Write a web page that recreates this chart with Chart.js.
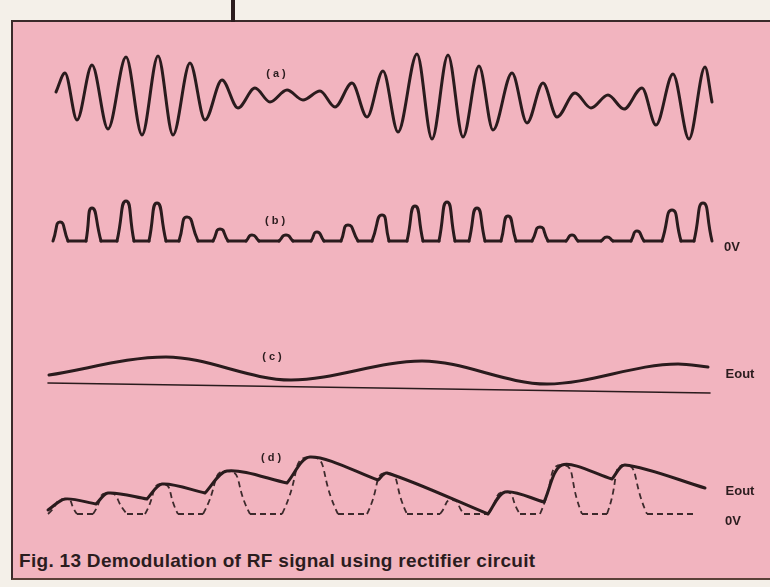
<!DOCTYPE html>
<html>
<head>
<meta charset="utf-8">
<script src="https://cdn.jsdelivr.net/npm/chart.js@4.4.0/dist/chart.umd.min.js"></script>
<style>
  html, body { margin: 0; padding: 0; background: #f4f0e9; }
  #page { position: relative; width: 770px; height: 587px; overflow: hidden; background: #f4f0e9; }
  #panel { position: absolute; left: 11px; top: 20px; width: 770px; height: 556px; background: #f2b4bf;
           border-left: 2px solid #3a2a2a; border-top: 2px solid #3a2a2a; border-bottom: 2px solid #5a4038; }
  #bar { position: absolute; left: 231px; top: 0; width: 4px; height: 22px; background: #2b1c1e; }
  .plot { position: absolute; left: 40px; width: 690px; }
  .lbl { position: absolute; transform: translate(-50%, -50%); white-space: nowrap;
         font-family: "Liberation Sans", Arial, sans-serif; font-weight: bold; color: #2b1c1e; line-height: 1; }
  .tag { font-size: 11px; }
  .side { font-size: 13px; }
  #caption { position: absolute; left: 19px; top: 551px; font-family: "Liberation Sans", Arial, sans-serif;
             font-weight: bold; font-size: 19px; letter-spacing: 0.3px; line-height: 1; color: #2b1c1e; white-space: nowrap; }
</style>
</head>
<body>
<div id="page">
  <div id="panel"></div>
  <div id="bar"></div>

  <div class="plot" style="top:42px;height:105px"><canvas id="chartA"></canvas></div>
  <div class="plot" style="top:191px;height:65px"><canvas id="chartB"></canvas></div>
  <div class="plot" style="top:338px;height:70px"><canvas id="chartC"></canvas></div>
  <div class="plot" style="top:444px;height:90px"><canvas id="chartD"></canvas></div>

  <div class="lbl tag" style="left:276px;top:73px">( a )</div>
  <div class="lbl tag" style="left:275px;top:220px">( b )</div>
  <div class="lbl tag" style="left:272px;top:356px">( c )</div>
  <div class="lbl tag" style="left:271px;top:457px">( d )</div>

  <div class="lbl side" style="left:732px;top:246px">0V</div>
  <div class="lbl side" style="left:740px;top:373px">Eout</div>
  <div class="lbl side" style="left:740px;top:490px">Eout</div>
  <div class="lbl side" style="left:733px;top:520px">0V</div>

  <div id="caption">Fig. 13 Demodulation of RF signal using rectifier circuit</div>
</div>

<script>
// time axis shared by all four traces (arbitrary units)
const T_MIN = -1, T_MAX = 68;
const INK = "#2a1b1d";

// (a) modulated RF carrier - peaks and troughs
const aTime = [0.6, 1.5, 2.7, 4.2, 5.8, 7.6, 9.2, 10.8, 12.3, 14.0, 15.5, 17.2, 18.8, 20.5, 22.0,
  23.7, 25.3, 27.0, 28.5, 30.2, 31.7, 33.3, 34.8, 36.7, 38.2, 39.8, 41.3, 42.9, 44.3, 46.2,
  47.7, 49.3, 50.7, 52.5, 54.1, 55.8, 57.4, 59.2, 60.6, 62.3, 63.9, 65.5, 66.2];
const aVolt = [0.5, 2.4, -2.3, 3.2, -3.2, 4.0, -3.8, 4.1, -3.8, 3.4, -2.3, 1.7, -1.1, 0.9, -0.5,
  0.7, -0.3, 0.6, -1.0, 1.4, -2.0, 2.6, -3.5, 4.3, -4.2, 4.2, -4.0, 3.1, -3.3, 2.4,
  -2.6, 1.4, -2.0, 0.4, -1.1, 0.2, -1.2, 0.9, -2.8, 2.3, -4.2, 3.0, -0.5];

// (b) rectified carrier - one hump per cycle
const bRiseT = [0.3, 3.6, 6.7, 9.9, 12.9, 16.3, 19.6, 22.9, 26.1, 29.1, 32.2, 35.7, 38.9, 41.9, 45.1, 48.2, 51.6, 55.1, 58.1, 61.2, 64.4];
const bPeakT = [1.0, 4.2, 7.6, 10.7, 13.7, 17.0, 20.2, 23.6, 26.7, 29.8, 33.2, 36.5, 39.7, 42.7, 45.8, 49.0, 52.2, 55.7, 58.7, 62.2, 65.3];
const bFallT = [1.8, 5.1, 8.4, 11.6, 14.8, 17.8, 20.9, 24.3, 27.4, 30.8, 33.9, 37.3, 40.5, 43.5, 46.6, 49.8, 52.8, 56.3, 59.4, 63.1, 66.2];
const bPeakV = [1.9, 3.3, 4.0, 3.8, 2.4, 1.2, 0.6, 0.6, 0.9, 1.6, 2.6, 3.5, 3.9, 3.3, 2.5, 1.4, 0.6, 0.4, 1.0, 3.1, 3.8];

// (c) recovered audio Eout and its reference line
const cTime = [-0.1, 11.6, 24.1, 37.2, 49.7, 62.8, 65.8];
const cVolt = [1.3, 3.1, 0.8, 2.7, 0.4, 2.4, 2.1];
const cRefT = [-0.2, 66.0];
const cRefV = [0.5, -0.5];

// (d) rectified humps (dashed) and capacitor output Eout (solid)
const dRiseT = [-0.2, 4.3, 9.5, 15.3, 23.2, 31.7, 39.0, 43.8, 49.0, 55.7];
const dPeakT = [1.5, 5.8, 11.2, 17.7, 26.0, 33.7, 40.2, 45.5, 51.2, 57.5];
const dFallT = [2.7, 7.7, 12.8, 20.0, 28.8, 35.7, 41.4, 47.0, 53.2, 59.7];
const dPeakV = [1.5, 2.1, 3.0, 4.3, 5.7, 4.1, 1.4, 2.2, 4.9, 4.9];
const dTailT = 64.7;
const dCuspT = [-0.2, 4.6, 9.7, 15.5, 23.7, 32.8, 43.8, 49.4, 56.2, 65.5];
const dCuspV = [0.4, 1.0, 1.5, 2.1, 3.1, 3.4, 0.0, 1.2, 3.5, 2.6];
const dTopT = [1.5, 5.8, 11.2, 17.7, 26.0, 33.7, 45.5, 51.2, 57.5];
const dTopV = [1.5, 2.1, 3.0, 4.3, 5.7, 4.1, 2.2, 4.9, 4.9];

const zip = (xs, ys) => xs.map((x, i) => ({ x, y: ys[i] }));

// humps: rise -> peak -> fall, broken apart with a gap
function humps(rise, peak, fall, height) {
  const pts = [];
  rise.forEach((t, i) => {
    pts.push({ x: t, y: 0 }, { x: peak[i], y: height[i] }, { x: fall[i], y: 0 }, { x: fall[i], y: null });
  });
  return pts;
}

// flat 0V pieces between the humps
function flats(rise, fall, tail) {
  const pts = [];
  for (let i = 0; i < fall.length - 1; i++) {
    pts.push({ x: fall[i], y: 0 }, { x: rise[i + 1], y: 0 }, { x: rise[i + 1], y: null });
  }
  if (tail != null) pts.push({ x: fall[fall.length - 1], y: 0 }, { x: tail, y: 0 });
  return pts;
}

// charge (curve up to the top) then discharge, sharp at each cusp
function eout() {
  const pts = [];
  dTopT.forEach((t, i) => {
    pts.push({ x: dCuspT[i], y: dCuspV[i] }, { x: t, y: dTopV[i] },
             { x: dCuspT[i + 1], y: dCuspV[i + 1] }, { x: dCuspT[i + 1], y: null });
  });
  return pts;
}

const line = (data, extra) => Object.assign({
  data, borderColor: INK, borderWidth: 3, pointRadius: 0, fill: false, clip: false, spanGaps: false, tension: 0,
  borderJoinStyle: "round", borderCapStyle: "round"
}, extra);

const dashed = { borderWidth: 1.8, borderDash: [6, 4], borderColor: "#3d2a2c", borderCapStyle: "butt" };

function makeChart(id, yMin, yMax, datasets) {
  return new Chart(document.getElementById(id), {
    type: "line",
    data: { datasets },
    options: {
      animation: false,
      responsive: true,
      maintainAspectRatio: false,
      layout: { padding: 0 },
      events: [],
      plugins: { legend: { display: false }, tooltip: { enabled: false } },
      scales: {
        x: { type: "linear", min: T_MIN, max: T_MAX, display: false },
        y: { type: "linear", min: yMin, max: yMax, display: false }
      }
    }
  });
}

makeChart("chartA", -5, 5.5, [
  line(zip(aTime, aVolt), { cubicInterpolationMode: "monotone" })
]);

makeChart("chartB", -1.5, 5, [
  line(humps(bRiseT, bPeakT, bFallT, bPeakV), { tension: 0.65 }),
  line(flats(bRiseT, bFallT, null))
]);

makeChart("chartC", -2, 5, [
  line(zip(cTime, cVolt), { cubicInterpolationMode: "monotone" }),
  line(zip(cRefT, cRefV), { borderWidth: 1.6 })
]);

makeChart("chartD", -2, 7, [
  line(eout(), { tension: 0.3 }),
  line(humps(dRiseT, dPeakT, dFallT, dPeakV), Object.assign({ tension: 0.7 }, dashed)),
  line(flats(dRiseT, dFallT, dTailT), dashed)
]);
</script>
</body>
</html>
